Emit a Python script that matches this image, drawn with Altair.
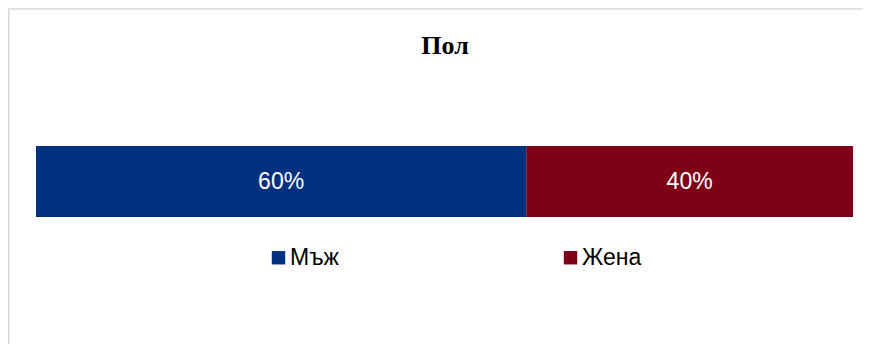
import altair as alt
import pandas as pd

title_text = "Пол"
row_name = "Пол"
categories = ["Мъж", "Жена"]
values = [60, 40]
labels = ["60%", "40%"]
colors = ["#003080", "#7e0018"]

starts, ends = [], []
s = 0
for v in values:
    starts.append(s)
    s += v
    ends.append(s)

df = pd.DataFrame({
    "cat": categories,
    "value": values,
    "start": starts,
    "end": ends,
    "mid": [(a + b) / 2 for a, b in zip(starts, ends)],
    "label": labels,
    "row": [row_name] * len(categories),
})

W, H = 855, 336
xscale = alt.Scale(domain=[0, 100], range=[28, 845], nice=False, zero=True)
yscale = alt.Scale(domain=[row_name], range=[138, 209], paddingInner=0, paddingOuter=0)

bars = alt.Chart(df).mark_bar(strokeWidth=0).encode(
    x=alt.X("start:Q", scale=xscale, axis=None),
    x2="end:Q",
    y=alt.Y("row:N", scale=yscale, axis=None),
    color=alt.Color(
        "cat:N",
        scale=alt.Scale(domain=categories, range=colors),
        legend=alt.Legend(
            orient="none", legendX=259, legendY=238, direction="horizontal",
            title=None, symbolType="square", symbolSize=180, symbolStrokeWidth=0,
            symbolOpacity=1, labelFont="Liberation Sans", labelFontSize=23,
            labelColor="#000000", labelOffset=0, columnPadding=220, padding=0,
        ),
    ),
)

texts = alt.Chart(df).mark_text(
    color="white", font="Liberation Sans", fontSize=23, baseline="middle", align="center"
).encode(
    x=alt.X("mid:Q", scale=xscale, axis=None),
    y=alt.Y("row:N", scale=yscale, axis=None),
    text="label:N",
)

title = alt.Chart(pd.DataFrame({"t": [title_text]})).mark_text(
    font="Liberation Serif", fontSize=26, fontWeight="bold", baseline="alphabetic",
    align="center", color="#000000",
).encode(text="t:N", x=alt.value(437), y=alt.value(46))

border_left = alt.Chart(pd.DataFrame({"a": [0]})).mark_rule(
    color="#d9d9d9", strokeWidth=1.5
).encode(x=alt.value(0.75), y=alt.value(1), y2=alt.value(H))

border_top = alt.Chart(pd.DataFrame({"a": [0]})).mark_rule(
    color="#d9d9d9", strokeWidth=1.5
).encode(x=alt.value(0), x2=alt.value(W), y=alt.value(1))

chart = alt.layer(border_left, border_top, bars, texts, title).properties(
    width=W, height=H, autosize="none", padding=0
).configure_view(stroke=None)

chart.save("out.html", embed_options={"renderer": "svg", "actions": False})
